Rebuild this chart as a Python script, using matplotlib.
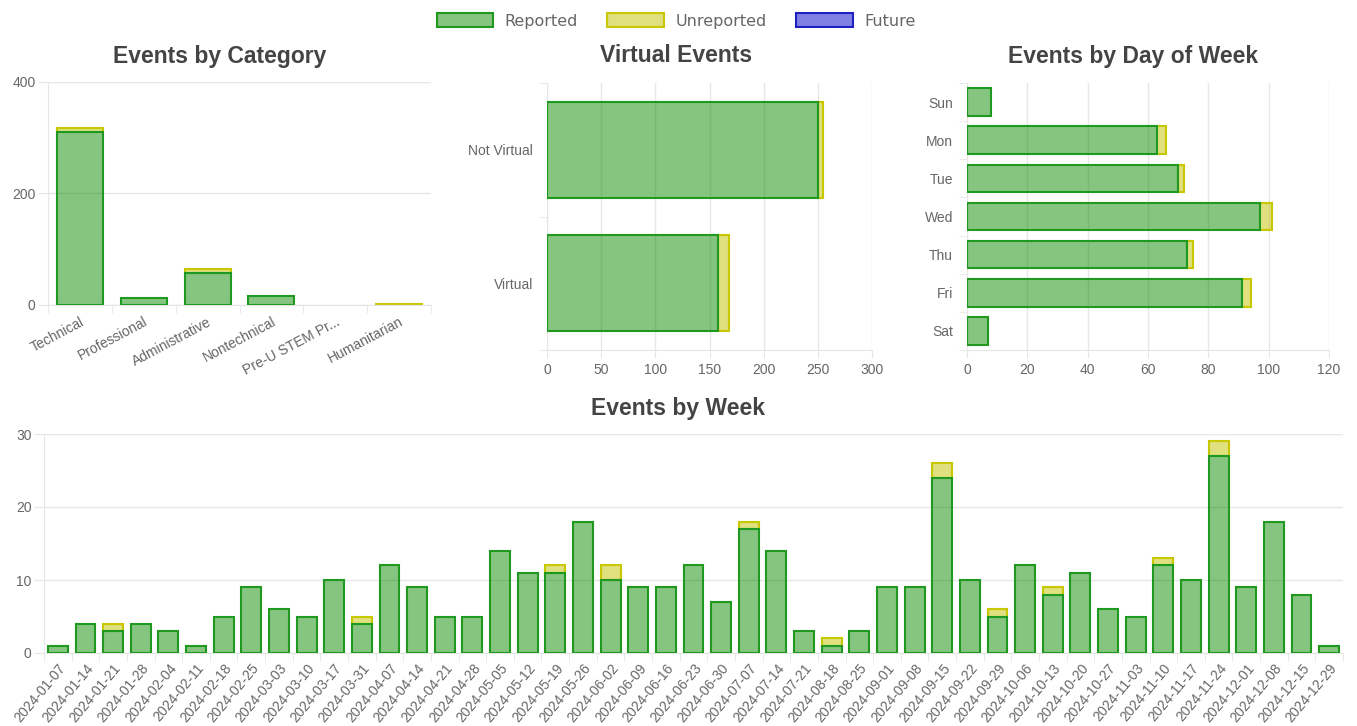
import matplotlib
matplotlib.use("Agg")
import matplotlib.pyplot as plt
from matplotlib.patches import Patch
import numpy as np

plt.rcParams['font.family'] = ['Liberation Sans', 'DejaVu Sans']

# ---- data ----
categories = ["Technical", "Professional", "Administrative", "Nontechnical", "Pre-U STEM Pr...", "Humanitarian"]
cat_reported = [311, 12, 58, 17, 0, 0]
cat_unreported = [7, 0, 6, 0, 0, 1]

virtual_labels = ["Not Virtual", "Virtual"]
virt_reported = [250, 158]
virt_unreported = [5, 10]

days = ["Sun", "Mon", "Tue", "Wed", "Thu", "Fri", "Sat"]
day_reported = [8, 63, 70, 97, 73, 91, 7]
day_unreported = [0, 3, 2, 4, 2, 3, 0]

weeks = ["2024-01-07", "2024-01-14", "2024-01-21", "2024-01-28", "2024-02-04", "2024-02-11",
         "2024-02-18", "2024-02-25", "2024-03-03", "2024-03-10", "2024-03-17", "2024-03-31",
         "2024-04-07", "2024-04-14", "2024-04-21", "2024-04-28", "2024-05-05", "2024-05-12",
         "2024-05-19", "2024-05-26", "2024-06-02", "2024-06-09", "2024-06-16", "2024-06-23",
         "2024-06-30", "2024-07-07", "2024-07-14", "2024-07-21", "2024-08-18", "2024-08-25",
         "2024-09-01", "2024-09-08", "2024-09-15", "2024-09-22", "2024-09-29", "2024-10-06",
         "2024-10-13", "2024-10-20", "2024-10-27", "2024-11-03", "2024-11-10", "2024-11-17",
         "2024-11-24", "2024-12-01", "2024-12-08", "2024-12-15", "2024-12-29"]
week_reported = [1, 4, 3, 4, 3, 1, 5, 9, 6, 5, 10, 4, 12, 9, 5, 5, 14, 11, 11, 18, 10, 9, 9, 12,
                 7, 17, 14, 3, 1, 3, 9, 9, 24, 10, 5, 12, 8, 11, 6, 5, 12, 10, 27, 9, 18, 8, 1]
week_unreported = [0, 0, 1, 0, 0, 0, 0, 0, 0, 0, 0, 1, 0, 0, 0, 0, 0, 0, 1, 0, 2, 0, 0, 0,
                   0, 1, 0, 0, 1, 0, 0, 0, 2, 0, 1, 0, 1, 0, 0, 0, 1, 0, 2, 0, 0, 0, 0]

# ---- style ----
green_fill = (0.05, 0.55, 0.0, 0.5)
green_edge = '#1f991f'
yel_fill = (0.76, 0.76, 0.0, 0.5)
yel_edge = '#c8c800'
blue_fill = (0.0, 0.0, 0.8, 0.5)
blue_edge = '#2020c0'
grid_c = '#e6e6e6'
tick_c = '#666666'
title_c = '#444444'

W, H = 1357, 726
fig = plt.figure(figsize=(W / 100, H / 100), dpi=100)


def px_axes(l, t, r, b):
    return fig.add_axes([l / W, 1 - b / H, (r - l) / W, (b - t) / H])


def edges(vals, c):
    return [c if v > 0 else 'none' for v in vals]


def base_style(ax):
    for s in ['top', 'right']:
        ax.spines[s].set_visible(False)
    for s in ['left', 'bottom']:
        ax.spines[s].set_color(grid_c)
    ax.tick_params(which='both', colors=grid_c, labelcolor=tick_c, labelsize=10)
    ax.set_axisbelow(True)


def vbar(ax, labels, rep, unrep, ymax, ystep, rot, pad):
    n = len(labels)
    x = np.arange(n)
    ax.bar(x, unrep, 0.72, bottom=rep, color=yel_fill, edgecolor=edges(unrep, yel_edge), lw=1.5, zorder=2)
    ax.bar(x, rep, 0.72, color=green_fill, edgecolor=edges(rep, green_edge), lw=1.5, zorder=3)
    base_style(ax)
    ax.set_xlim(-0.5, n - 0.5)
    ax.set_ylim(0, ymax)
    ax.set_yticks(np.arange(0, ymax + 1, ystep))
    ax.set_xticks(x)
    ax.set_xticklabels(labels, rotation=rot, ha='right', rotation_mode='anchor')
    ax.set_xticks(np.arange(-0.5, n, 1), minor=True)
    ax.tick_params(axis='x', which='major', length=0, pad=pad)
    ax.tick_params(axis='x', which='minor', length=6)
    ax.tick_params(axis='y', length=7, pad=2)
    ax.yaxis.grid(True, color=grid_c, lw=1)


def hbar(ax, labels, rep, unrep, xmax, xstep):
    n = len(labels)
    y = np.arange(n)
    ax.barh(y, unrep, 0.72, left=rep, color=yel_fill, edgecolor=edges(unrep, yel_edge), lw=1.5, zorder=2)
    ax.barh(y, rep, 0.72, color=green_fill, edgecolor=edges(rep, green_edge), lw=1.5, zorder=3)
    base_style(ax)
    ax.set_ylim(n - 0.5, -0.5)
    ax.set_xlim(0, xmax)
    ax.set_xticks(np.arange(0, xmax + 1, xstep))
    ax.set_yticks(y)
    ax.set_yticklabels(labels)
    ax.set_yticks(np.arange(-0.5, n, 1), minor=True)
    ax.tick_params(axis='y', which='major', length=0, pad=10)
    ax.tick_params(axis='y', which='minor', length=6)
    ax.tick_params(axis='x', length=6, pad=3)
    ax.xaxis.grid(True, color=grid_c, lw=1)


ax1 = px_axes(48, 82, 431, 305)
vbar(ax1, categories, cat_reported, cat_unreported, 400, 200, 28, 7)

ax2 = px_axes(547, 83, 872, 350)
hbar(ax2, virtual_labels, virt_reported, virt_unreported, 300, 50)

ax3 = px_axes(967, 83, 1329, 350)
hbar(ax3, days, day_reported, day_unreported, 120, 20)

ax4 = px_axes(44, 434, 1343, 653)
vbar(ax4, weeks, week_reported, week_unreported, 30, 10, 50, 6)

for txt, xc, yc in [("Events by Category", 220, 56), ("Virtual Events", 676, 56),
                    ("Events by Day of Week", 1133, 56), ("Events by Week", 678, 408)]:
    fig.text(xc / W, 1 - yc / H, txt, ha='center', va='center', fontsize=16.5,
             fontweight='bold', color=title_c)

handles = [Patch(facecolor=green_fill, edgecolor=green_edge, lw=1.5, label='Reported'),
           Patch(facecolor=yel_fill, edgecolor=yel_edge, lw=1.5, label='Unreported'),
           Patch(facecolor=blue_fill, edgecolor=blue_edge, lw=1.5, label='Future')]
leg = fig.legend(handles=handles, loc='center', bbox_to_anchor=(676 / W, 1 - 21 / H), ncol=3,
                 frameon=False, prop={'family': 'DejaVu Sans', 'size': 11.5},
                 handlelength=3.55, handleheight=0.9, handletextpad=0.7, columnspacing=1.85)
for t in leg.get_texts():
    t.set_color(tick_c)

fig.savefig("out.png", dpi=100)
